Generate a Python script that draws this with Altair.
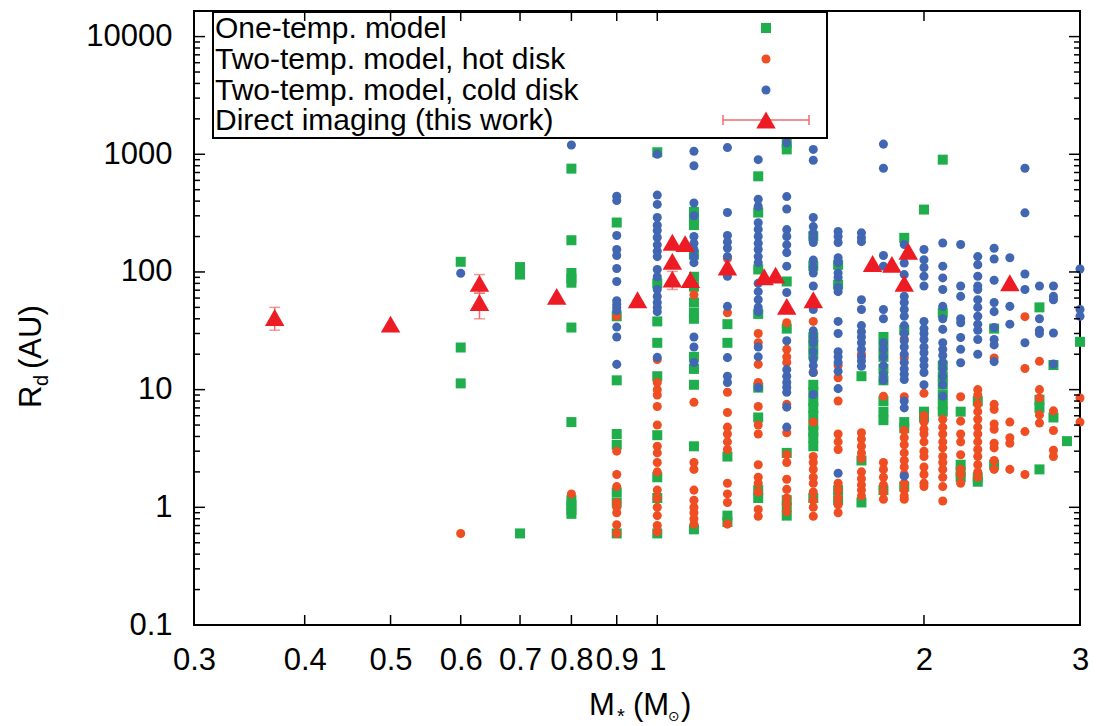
import altair as alt
import pandas as pd

# ---------------- data ----------------
ONE_TEMP = {
    0.6: [122, 22.8, 11.3],
    0.7: [110, 95, 0.6],
    0.8: [755, 186, 98, 88, 81, 33.7, 5.3, 1.15, 1.05, 0.95, 0.88],
    0.9: [263, 42, 12, 4.2, 3.4, 1.34, 1.1, 0.6],
    1.0: [1040, 80, 38, 25, 13, 4.1, 1.8, 1.2, 0.6],
    1.1: [324, 290, 250, 140, 91, 75, 55, 45, 40, 19, 15, 11, 3.3, 0.65],
    1.2: [36, 25, 2.7, 0.85, 0.75],
    1.3: [650, 320, 105, 44, 10.4, 5.8, 1.4, 1.2],
    1.4: [1250, 1100, 83, 33, 2.9, 1.15, 1.0, 0.85],
    1.5: [201, 112, 28, 24, 20, 11, 9.5, 8, 7, 6, 5, 4.4, 3.9, 3.3, 1.2],
    1.6: [115, 78, 1.4, 1.15],
    1.7: [13, 2.5, 1.1],
    1.8: [28, 23, 19, 15, 12, 8, 6.5, 5.5, 1.4],
    1.9: [195, 32, 5.3, 4.7, 1.5],
    2.0: [339, 6.5, 5.8],
    2.1: [900, 45, 16, 13, 11, 9, 7.5, 6.5],
    2.2: [6.5, 2.3, 2.0, 1.8],
    2.3: [8, 1.8, 1.65],
    2.4: [33, 2.3],
    2.7: [50, 8.2, 7.0, 2.1],
    2.8: [16.2, 5.8],
    2.9: [3.65],
    3.0: [25.5],
}

HOT_DISK = {
    0.6: [0.6],
    0.8: [1.3],
    0.9: [42, 3.0, 1.9, 1.5, 1.1, 1.0, 0.9, 0.71, 0.6],
    1.0: [18, 11.5, 10, 9, 7.2, 5.0, 3.3, 2.9, 2.4, 2.0, 1.4, 1.2, 1.0, 0.85, 0.7, 0.62],
    1.1: [64, 7.8, 2.4, 2.1, 1.4, 1.15, 1.0, 0.9, 0.8, 0.72],
    1.2: [130, 45, 9.5, 6.4, 4.8, 4.2, 3.6, 3.1, 1.6, 1.3, 1.1, 0.72],
    1.3: [30, 25, 16.4, 11.5, 7.2, 5.0, 4.2, 2.3, 1.8, 1.6, 1.35, 0.96, 0.84],
    1.4: [37, 22, 19, 17, 7.5, 4.3, 2.8, 2.4, 1.73, 1.42, 1.2, 1.05, 0.92],
    1.5: [38, 14, 5.3, 2.7, 2.4, 2.1, 1.8, 1.6, 1.35, 1.15, 1.0, 0.84],
    1.6: [16, 12.6, 8, 4.2, 3.6, 3.1, 1.6, 1.4, 1.2, 1.05, 0.9],
    1.7: [20, 4.3, 3.8, 3.3, 2.9, 2.6, 2.0, 1.75, 1.55, 1.4, 1.25],
    1.8: [8.8, 2.4, 2.1, 1.8, 1.55, 1.35, 1.17],
    1.9: [27, 18.7, 8.7, 4.5, 3.9, 3.4, 2.9, 2.5, 2.2, 1.9, 1.6, 1.4, 1.25, 1.17],
    2.0: [9.3, 6, 5.3, 4.6, 4.2, 3.6, 3.0, 2.7, 2.2, 1.9, 1.6, 1.5],
    2.1: [5.6, 4.8, 4.2, 3.6, 3.2, 2.7, 2.4, 2.1, 1.8, 1.5, 1.13],
    2.2: [8.7, 5.4, 4.2, 3.6, 2.8, 2.1, 1.9, 1.6],
    2.3: [10, 9, 7.5, 6.5, 5.6, 4.8, 4.2, 3.6, 3.1, 2.7, 2.3, 2.0, 1.8],
    2.4: [18.6, 7.5, 6.8, 5.1, 4.6, 3.5, 3.2, 2.5, 2.1],
    2.5: [5.3, 3.9, 3.5, 2.1],
    2.6: [41.7, 15.1, 4.4, 1.9],
    2.7: [17.4, 10, 8.5, 6.1, 5.2],
    2.8: [6.6, 4.5, 3.05, 2.7],
    3.0: [8.5, 5.3],
}

COLD_DISK = {
    0.6: [97.5],
    0.8: [1200],
    0.9: [440, 404, 204, 155, 138, 107, 83, 57, 53, 50, 47, 34, 28, 16.4],
    1.0: [1000, 450, 375, 290, 250, 225, 196, 170, 150, 135, 105, 91, 71, 62, 55, 50, 46, 18.8],
    1.1: [1060, 800, 386, 300, 200, 175, 155, 135, 120, 28, 23, 17],
    1.2: [1140, 320, 204, 180, 160, 135, 92, 51, 18.7, 13, 11.5],
    1.3: [900, 415, 360, 262, 230, 200, 175, 155, 135, 120, 80, 68, 58, 50, 46, 23, 19, 10.4],
    1.4: [1250, 437, 343, 229, 200, 170, 146, 112, 67, 26, 14.8, 13, 11.5, 10.5, 9.5, 7.1, 4.8],
    1.5: [1100, 890, 290, 243, 215, 195, 178, 126, 110, 98, 76, 48, 31.6, 28, 25, 21, 18, 16, 14, 9.1],
    1.6: [221, 200, 178, 132, 120, 98, 90, 74, 68, 38, 30, 21, 19, 17, 14.3, 10.2, 1.95],
    1.7: [215, 195, 181, 58, 48, 35, 31, 28, 25, 22, 19, 17.5, 15.8],
    1.8: [1220, 760, 138, 112, 48, 40, 25, 22, 19, 16, 13.5, 12],
    1.9: [171, 119, 95, 62, 55, 48, 42, 35, 30, 26, 23, 20, 17, 15, 13.5, 12.2, 8, 7, 1.84],
    2.0: [155, 127, 109, 92, 76, 38, 33, 30, 26.7, 23, 20.6, 18, 16, 14, 11],
    2.1: [176, 112, 89, 71, 51, 40, 32.5, 25, 22, 19.5, 17, 15, 13, 11, 8.8],
    2.2: [171, 76, 62, 40, 37, 27.7, 22, 16.9],
    2.3: [135, 115, 92, 76, 71, 58, 50, 42, 36, 32, 26.7, 20],
    2.4: [159, 129, 85, 55, 46, 33.7, 26.7, 24, 17.3],
    2.5: [132, 51, 36],
    2.6: [760, 318, 96, 71, 25],
    2.7: [76, 40, 32, 30],
    2.8: [76, 62, 58, 30.3, 16.5],
    3.0: [106, 48, 42],
}

IMG_MASS = [0.37, 0.5, 0.63, 0.63, 0.77, 0.95, 1.04, 1.075, 1.04, 1.04, 1.09,
            1.2, 1.32, 1.36, 1.4, 1.5, 1.75, 1.84, 1.92, 1.9, 2.5]
IMG_R = [41, 36, 80, 55, 62, 58, 179, 174, 123, 87, 86,
         110, 91, 94, 51, 58, 118, 116, 150, 80, 81]

ERR_MASS = [0.37, 0.63, 0.63, 1.04]
ERR_LO = [32, 66, 40, 71]
ERR_HI = [50, 95, 66, 101]

X_TICKS = [0.3, 0.4, 0.5, 0.6, 0.7, 0.8, 0.9, 1, 2, 3]
Y_MAJOR = [0.1, 1, 10, 100, 1000, 10000]
Y_MINOR = [0.2, 0.3, 0.4, 0.5, 0.6, 0.7, 0.8, 0.9,
           2, 3, 4, 5, 6, 7, 8, 9,
           20, 30, 40, 50, 60, 70, 80, 90,
           200, 300, 400, 500, 600, 700, 800, 900,
           2000, 3000, 4000, 5000, 6000, 7000, 8000, 9000]

LEGEND = ["One-temp. model", "Two-temp. model, hot disk",
          "Two-temp. model, cold disk", "Direct imaging (this work)"]

# ---------------- styling ----------------
GREEN = "#1fae4b"
ORANGE = "#ef4e23"
BLUE = "#4166b2"
RED = "#ed1c24"
ERRC = "#f06b6b"
FONT = "Liberation Sans, Arial, Helvetica, sans-serif"
W, H = 886, 614


def long_df(d):
    return pd.DataFrame([{"m": m, "r": r} for m, vals in d.items() for r in vals])


xs = alt.Scale(type="log", domain=[0.3, 3], nice=False)
ys = alt.Scale(type="log", domain=[0.1, 16500], nice=False)
xax = alt.Axis(values=X_TICKS, format="~g", ticks=False, tickSize=0, domain=False,
               grid=False, labelFont=FONT, labelFontSize=31, labelColor="black",
               labelPadding=20, labelFlush=False, labelOverlap=False, title=None)
yax = alt.Axis(values=Y_MAJOR, format="~g", ticks=False, tickSize=0, domain=False,
               grid=False, labelFont=FONT, labelFontSize=31, labelColor="black",
               labelPadding=22, labelFlush=False, labelOverlap=False, title=None)


def X(f="m"):
    return alt.X(f"{f}:Q", scale=xs, axis=xax)


def Y(f="r"):
    return alt.Y(f"{f}:Q", scale=ys, axis=yax)


def txt(s, x, y, size=31, align="left", baseline="alphabetic", angle=0, font=FONT):
    return alt.Chart(pd.DataFrame({"t": [s]})).mark_text(
        align=align, baseline=baseline, fontSize=size, font=font, angle=angle,
        color="black").encode(x=alt.value(x), y=alt.value(y), text="t:N")


one = alt.Chart(long_df(ONE_TEMP)).mark_square(size=100, color=GREEN, opacity=1).encode(x=X(), y=Y())
hot = alt.Chart(long_df(HOT_DISK)).mark_circle(size=82, color=ORANGE, opacity=1).encode(x=X(), y=Y())
cold = alt.Chart(long_df(COLD_DISK)).mark_circle(size=82, color=BLUE, opacity=1).encode(x=X(), y=Y())

err_df = pd.DataFrame({"m": ERR_MASS, "lo": ERR_LO, "hi": ERR_HI})
err = alt.Chart(err_df).mark_rule(color=ERRC, strokeWidth=1.5).encode(x=X(), y=Y("lo"), y2="hi:Q")
cap_lo = alt.Chart(err_df).mark_tick(orient="horizontal", size=11, thickness=1.5, color=ERRC).encode(x=X(), y=Y("lo"))
cap_hi = alt.Chart(err_df).mark_tick(orient="horizontal", size=11, thickness=1.5, color=ERRC).encode(x=X(), y=Y("hi"))
img = alt.Chart(pd.DataFrame({"m": IMG_MASS, "r": IMG_R})).mark_point(
    shape="triangle-up", filled=True, size=380, color=RED, opacity=1, strokeWidth=0).encode(x=X(), y=Y())

# inward ticks on all four sides
ymaj = pd.DataFrame({"r": Y_MAJOR})
ymin = pd.DataFrame({"r": Y_MINOR})
xmaj = pd.DataFrame({"m": X_TICKS})
tick_layers = [
    alt.Chart(ymaj).mark_rule(color="black", strokeWidth=1.5).encode(y=Y(), x=alt.value(0), x2=alt.value(11)),
    alt.Chart(ymin).mark_rule(color="black", strokeWidth=1.5).encode(y=Y(), x=alt.value(0), x2=alt.value(6)),
    alt.Chart(ymaj).mark_rule(color="black", strokeWidth=1.5).encode(y=Y(), x=alt.value(W - 11), x2=alt.value(W)),
    alt.Chart(ymin).mark_rule(color="black", strokeWidth=1.5).encode(y=Y(), x=alt.value(W - 6), x2=alt.value(W)),
    alt.Chart(xmaj).mark_rule(color="black", strokeWidth=1.5).encode(x=X(), y=alt.value(H - 10), y2=alt.value(H)),
    alt.Chart(xmaj).mark_rule(color="black", strokeWidth=1.5).encode(x=X(), y=alt.value(0), y2=alt.value(10)),
]

# legend (gnuplot style: text left, sample right, boxed)
one_row = pd.DataFrame({"k": [0]})
leg_box = alt.Chart(one_row).mark_rect(fillOpacity=0, stroke="black", strokeWidth=2).encode(
    x=alt.value(19), x2=alt.value(633), y=alt.value(1), y2=alt.value(127))
row_y = [17, 48, 79, 109]
leg_layers = [leg_box]
for i, lab in enumerate(LEGEND):
    leg_layers.append(txt(lab, 21, row_y[i] + 1, size=30, baseline="middle"))
leg_layers += [
    alt.Chart(one_row).mark_square(size=100, color=GREEN, opacity=1).encode(x=alt.value(572), y=alt.value(row_y[0])),
    alt.Chart(one_row).mark_circle(size=82, color=ORANGE, opacity=1).encode(x=alt.value(572), y=alt.value(row_y[1])),
    alt.Chart(one_row).mark_circle(size=82, color=BLUE, opacity=1).encode(x=alt.value(572), y=alt.value(row_y[2])),
    alt.Chart(one_row).mark_rule(color=ERRC, strokeWidth=1.5).encode(x=alt.value(529), x2=alt.value(615), y=alt.value(row_y[3])),
    alt.Chart(one_row).mark_rule(color=ERRC, strokeWidth=1.5).encode(x=alt.value(529), y=alt.value(row_y[3] - 5), y2=alt.value(row_y[3] + 5)),
    alt.Chart(one_row).mark_rule(color=ERRC, strokeWidth=1.5).encode(x=alt.value(615), y=alt.value(row_y[3] - 5), y2=alt.value(row_y[3] + 5)),
    alt.Chart(one_row).mark_point(shape="triangle-up", filled=True, size=380, color=RED, opacity=1, strokeWidth=0).encode(
        x=alt.value(572), y=alt.value(row_y[3])),
]

# axis titles built from pieces (sub-scripts)
title_layers = [
    txt("M", 395, 704),
    txt("*", 423, 712, size=20),
    txt("(M", 439, 704),
    txt("\u2299", 474, 710, size=14, font="DejaVu Sans"),
    txt(")", 487, 704),
    txt("R", -153, 397, angle=270),
    txt("d", -146, 375, size=20, angle=270),
    txt("(AU)", -153, 358, angle=270),
]

chart = alt.layer(
    one, hot, cold, err, cap_lo, cap_hi, img, *tick_layers, *leg_layers, *title_layers
).properties(
    width=W, height=H,
    autosize=alt.AutoSizeParams(type="none"),
    padding={"left": 194, "top": 11, "right": 16, "bottom": 101},
).configure_view(stroke="black", strokeWidth=2)

chart.save("out.html", embed_options={"renderer": "svg", "actions": False})
